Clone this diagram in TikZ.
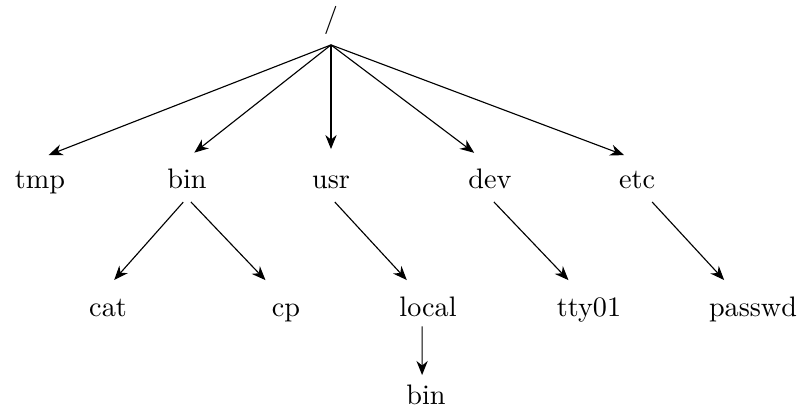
\documentclass[tikz,border=0pt]{standalone}
\usetikzlibrary{arrows.meta}

\begin{document}
\begin{tikzpicture}[
    >={Stealth[length=5pt, width=4pt]},
    dir/.style={text height=7pt, text depth=0pt, inner sep=3.3pt, anchor=base},
    down/.style={->, shorten >=3.3pt},
    sub/.style={down, shorten <=2pt}
]
    % Page size
    \useasboundingbox (0,0) rectangle (10,-5.1);

    % Level heights (baselines)
    \def\rowA{-2.344}
    \def\rowB{-3.946}

    % Root
    \node[anchor=base, inner sep=3.3pt] (root) at (4.127,-0.349) {/};

    % First level
    \node[dir] (tmp) at (0.499,\rowA) {tmp};
    \node[dir] (bin) at (2.332,\rowA) {bin};
    \node[dir] (usr) at (4.127,\rowA) {usr};
    \node[dir] (dev) at (6.110,\rowA) {dev};
    \node[dir] (etc) at (7.943,\rowA) {etc};

    % Second level
    \node[dir] (cat) at (1.347,\rowB) {cat};
    \node[dir] (cp) at (3.566,\rowB) {cp};
    \node[dir] (local) at (5.337,\rowB) {local};
    \node[dir] (tty) at (7.344,\rowB) {tty01};
    \node[dir] (passwd) at (9.389,\rowB) {passwd};

    % Third level
    \node[dir] (localbin) at (5.312,-5.045) {bin};

    % Edges from root
    \draw[down] (root.south) -- (tmp.north);
    \draw[down] (root.south) -- (bin.north);
    \draw[down] (root.south) -- (usr.north);
    \draw[down] (root.south) -- ([xshift=-3pt]dev.north);
    \draw[down] (root.south) -- ([xshift=-1.5pt]etc.north);

    % Edges below
    \draw[sub] (bin.south) -- (cat.north);
    \draw[sub] (bin.south) -- ([xshift=-5pt]cp.north);
    \draw[sub] (usr.south) -- ([xshift=-5.3pt]local.north);
    \draw[sub] (dev.south) -- ([xshift=-5pt]tty.north);
    \draw[sub] ([xshift=4pt]etc.south) -- ([xshift=-8pt]passwd.north);
    \draw[->] ([xshift=-2.1pt]local.south) -- ([xshift=-1.4pt]localbin.north);

\end{tikzpicture}
\end{document}
